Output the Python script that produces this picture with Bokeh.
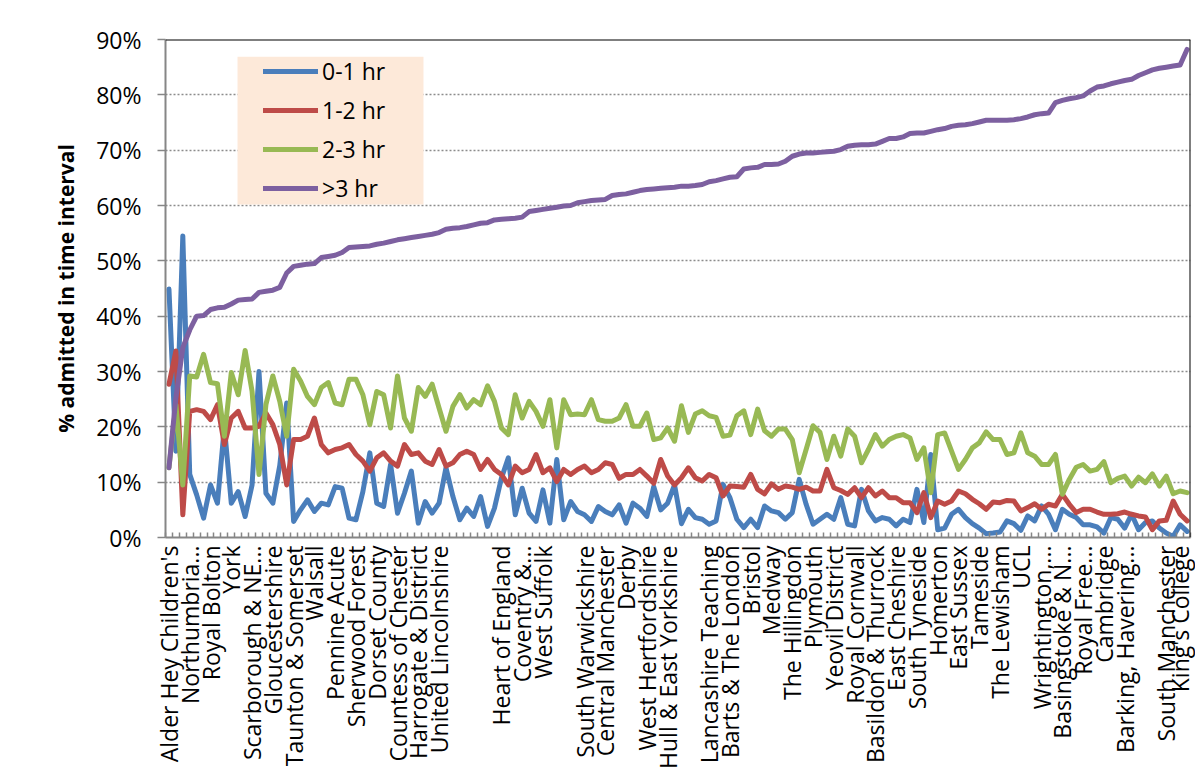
import math
from bokeh.plotting import figure
from bokeh.models import (FixedTicker, Range1d, Legend, LegendItem, Span,
                          BoxAnnotation, PrintfTickFormatter)
from bokeh.embed import file_html
from bokeh.resources import INLINE

# ---------------- data ----------------
tick_labels = [
    "Alder Hey Children's", "Northumbria...", "Royal Bolton", "York",
    "Scarborough & NE...", "Gloucestershire", "Taunton & Somerset", "Walsall",
    "Pennine Acute", "Sherwood Forest", "Dorset County", "Countess of Chester",
    "Harrogate & District", "United Lincolnshire", "", "", "Heart of England",
    "Coventry &...", "West Suffolk", "", "South Warwickshire", "Central Manchester",
    "Derby", "West Hertfordshire", "Hull & East Yorkshire", "", "Lancashire Teaching",
    "Barts & The London", "Bristol", "Medway", "The Hillingdon", "Plymouth",
    "Yeovil District", "Royal Cornwall", "Basildon & Thurrock", "East Cheshire",
    "South Tyneside", "Homerton", "East Sussex", "Tameside", "The Lewisham", "UCL",
    "Wrightington,...", "Basingstoke & N...", "Royal Free...", "Cambridge",
    "Barking, Havering...", "", "South Manchester", "King's College",
]
label_every = 3

series_names = ["0-1 hr", "1-2 hr", "2-3 hr", ">3 hr"]

hr_0_1 = [44.9, 15.6, 54.5, 11.4, 7.7, 3.5, 9.5, 6.2, 20.0, 6.2, 8.3, 3.8, 9.5, 30.0, 8.0, 6.2, 13.0, 24.3, 2.9, 5.0,
          6.8, 4.7, 6.2, 5.9, 9.2, 8.9, 3.5, 3.2, 8.3, 15.3, 6.2, 5.6, 13.2, 4.4, 8.0, 12.0, 2.6,
          6.5, 4.4, 6.2, 12.6, 7.4, 3.2, 5.3, 3.8, 7.4, 2.0, 5.3, 10.7, 14.4, 4.1, 8.9, 4.4, 2.9, 8.6, 2.6, 14.1,
          3.2, 6.5, 4.7, 4.1, 2.9, 5.6, 4.7, 4.1, 5.9, 2.6, 6.2, 5.3, 3.8, 9.2, 5.0, 6.2, 9.5,
          2.5, 5.1, 3.6, 3.3, 2.4, 3.0, 9.6, 7.2, 3.3, 1.8, 3.3, 1.8, 5.7, 4.8, 4.5, 3.3, 4.5, 10.5, 6.0, 2.4,
          3.3, 4.2, 3.3, 7.2, 2.4, 2.1, 8.7, 4.8, 3.0, 3.6, 3.3, 2.1, 3.3, 2.7, 8.7, 2.7, 15.0,
          1.4, 1.7, 4.2, 5.1, 3.6, 2.5, 1.7, 0.7, 0.8, 1.0, 3.0, 2.5, 1.3, 3.9, 3.0, 5.7, 4.2, 1.4, 5.1, 4.2,
          3.6, 2.3, 2.3, 1.9, 0.8, 3.6, 3.3, 1.7, 4.2, 1.4, 2.7, 3.0, 1.7, 0.8, 0.2, 2.3, 1.1]

hr_1_2 = [27.7, 33.7, 4.1, 22.8, 23.1, 22.8, 21.3, 24.0, 16.8, 21.6, 22.8, 19.8, 19.8, 20.1, 22.5, 20.4, 16.8, 9.5, 17.7, 17.7,
          18.3, 21.6, 16.8, 15.3, 15.9, 16.2, 16.8, 15.0, 13.8, 12.0, 14.4, 15.3, 13.8, 12.9, 16.8, 15.0, 15.3,
          13.8, 13.2, 15.9, 12.9, 13.5, 15.0, 15.6, 15.0, 12.3, 14.1, 12.3, 11.4, 9.5, 12.9, 11.7, 12.3, 15.0, 11.7, 12.6, 10.1,
          12.3, 11.4, 12.3, 12.9, 11.7, 12.3, 13.5, 13.2, 10.7, 11.4, 11.4, 12.3, 11.1, 9.8, 14.1, 11.1, 9.5,
          10.8, 12.6, 10.8, 10.2, 11.4, 10.8, 7.5, 9.3, 9.2, 9.1, 11.4, 8.7, 7.9, 9.7, 8.7, 9.3, 9.1, 8.7, 9.1, 8.4,
          8.4, 12.3, 9.0, 8.5, 7.8, 9.0, 7.2, 9.0, 7.5, 8.4, 7.2, 7.2, 6.3, 6.3, 4.5, 8.1, 3.6,
          6.6, 6.0, 6.6, 8.4, 7.9, 6.9, 6.1, 5.1, 6.4, 6.3, 6.7, 6.6, 4.8, 5.4, 6.1, 5.1, 6.0, 5.7, 7.8, 6.0,
          4.5, 5.1, 5.1, 4.6, 4.2, 4.2, 4.3, 4.6, 4.2, 3.9, 3.7, 1.4, 3.0, 3.1, 6.6, 4.2, 3.0]

hr_2_3 = [12.6, 24.0, 9.5, 29.2, 29.0, 33.1, 28.0, 27.8, 18.3, 29.8, 25.8, 33.8, 26.4, 11.4, 24.0, 29.2, 24.6, 18.3, 30.4, 28.3,
          25.5, 24.0, 27.1, 28.0, 24.3, 24.0, 28.6, 28.6, 25.8, 20.4, 26.4, 25.8, 19.8, 29.2, 21.6, 19.2, 27.1,
          25.5, 27.7, 23.4, 19.2, 23.7, 25.8, 23.4, 24.9, 24.0, 27.4, 24.6, 19.8, 18.6, 25.8, 21.6, 24.6, 22.8, 20.1, 24.9, 16.2,
          24.9, 22.2, 22.3, 22.2, 24.9, 21.3, 21.0, 21.0, 21.6, 24.0, 20.1, 20.1, 22.5, 17.7, 18.0, 19.8, 17.4,
          23.8, 19.0, 22.3, 22.9, 22.0, 21.7, 18.3, 18.5, 22.0, 22.9, 18.6, 23.2, 19.3, 18.3, 19.6, 19.6, 17.7, 11.7, 15.9, 20.2,
          19.0, 14.1, 18.3, 14.7, 19.6, 18.3, 13.5, 15.9, 18.6, 16.5, 17.7, 18.3, 18.6, 18.0, 14.1, 16.2, 8.1,
          18.6, 18.9, 15.6, 12.3, 14.1, 16.2, 17.1, 19.1, 17.7, 17.7, 15.0, 15.3, 18.9, 15.3, 14.7, 13.2, 13.2, 15.0, 7.8, 10.5,
          12.7, 13.2, 12.0, 12.3, 13.7, 9.9, 10.7, 11.1, 9.3, 10.9, 9.9, 11.5, 9.3, 11.1, 7.9, 8.4, 8.1]

hr_over_3 = [12.6, 25.2, 34.3, 37.5, 40.0, 40.1, 41.2, 41.5, 41.6, 42.2, 42.9, 43.0, 43.1, 44.3, 44.5, 44.7, 45.2, 47.8, 49.0, 49.2,
             49.4, 49.5, 50.6, 50.8, 51.0, 51.5, 52.4, 52.5, 52.6, 52.7, 53.0, 53.2, 53.5, 53.8, 54.0, 54.2, 54.4,
             54.6, 54.8, 55.1, 55.7, 55.9, 56.0, 56.2, 56.5, 56.8, 56.9, 57.4, 57.5, 57.6, 57.7, 57.9, 58.9, 59.1, 59.3, 59.5, 59.7,
             59.9, 60.0, 60.5, 60.7, 60.9, 61.0, 61.1, 61.8, 62.0, 62.1, 62.4, 62.7, 62.9, 63.0, 63.1, 63.2, 63.3,
             63.5, 63.5, 63.6, 63.8, 64.3, 64.5, 64.8, 65.1, 65.2, 66.6, 66.8, 66.9, 67.4, 67.4, 67.5, 68.0, 68.9, 69.3, 69.5, 69.5,
             69.6, 69.7, 69.8, 70.1, 70.7, 70.9, 71.0, 71.0, 71.1, 71.6, 72.1, 72.1, 72.4, 73.0, 73.1, 73.1, 73.4,
             73.7, 73.9, 74.3, 74.5, 74.6, 74.8, 75.1, 75.4, 75.4, 75.4, 75.4, 75.5, 75.7, 76.0, 76.4, 76.6, 76.7, 78.6, 79.0, 79.3,
             79.5, 79.8, 80.7, 81.4, 81.6, 82.0, 82.3, 82.6, 82.8, 83.5, 84.0, 84.5, 84.8, 85.0, 85.2, 85.4, 88.2]

y_ticks = [0, 10, 20, 30, 40, 50, 60, 70, 80, 90]

colors = ["#4A7EBB", "#BE4B48", "#98B954", "#7D60A0"]

# ---------------- figure ----------------
n = len(hr_0_1)
x = list(range(n))
FONT = "Open Sans"

p = figure(width=1195, height=776, output_backend="svg", toolbar_location=None,
           x_range=Range1d(-0.5, n - 0.5), y_range=Range1d(y_ticks[0], y_ticks[-1]),
           min_border_left=165, min_border_right=5, min_border_top=39,
           min_border_bottom=239)
p.outline_line_color = None
p.background_fill_color = "white"

# x axis
xa = p.xaxis[0]
major = [i * label_every for i in range(len(tick_labels))]
minor = [i - 0.5 for i in range(n + 1)]
xa.ticker = FixedTicker(ticks=major, minor_ticks=minor)
xa.major_label_overrides = {t: lab for t, lab in zip(major, tick_labels)}
xa.major_label_orientation = math.pi / 2
xa.major_label_text_font = FONT
xa.major_label_text_font_size = "23px"
xa.major_label_text_color = "black"
xa.major_label_standoff = 8
xa.major_tick_in = 0
xa.major_tick_out = 0
xa.minor_tick_in = 5
xa.minor_tick_out = 0
xa.minor_tick_line_color = "#868686"
xa.minor_tick_line_width = 1.5
xa.axis_line_color = "#868686"
xa.axis_line_width = 2

# y axis
ya = p.yaxis[0]
ya.ticker = FixedTicker(ticks=y_ticks, minor_ticks=[])
ya.formatter = PrintfTickFormatter(format="%d%%")
ya.major_label_text_font = FONT
ya.major_label_text_font_size = "23px"
ya.major_label_text_color = "black"
ya.major_tick_in = 0
ya.major_tick_out = 8
ya.major_tick_line_color = "#868686"
ya.major_tick_line_width = 1.5
ya.major_label_standoff = 16
ya.axis_line_color = "#868686"
ya.axis_line_width = 2
ya.axis_label = "% admitted in time interval"
ya.axis_label_text_font = FONT
ya.axis_label_text_font_style = "bold"
ya.axis_label_text_font_size = "21px"
ya.axis_label_text_color = "black"
ya.axis_label_standoff = 13

# grid
p.xgrid.visible = False
p.ygrid.ticker = FixedTicker(ticks=y_ticks)
p.ygrid.grid_line_color = "#8C8C8C"
p.ygrid.grid_line_dash = "2 2"
p.ygrid.grid_line_width = 1.3

# top and right plot borders
p.add_layout(Span(location=y_ticks[-1], dimension="width", line_color="black", line_width=2))
p.add_layout(Span(location=n - 0.5, dimension="height", line_color="black", line_width=2))

# legend background box (peach)
p.add_layout(BoxAnnotation(left=9.9, right=36.75, bottom=60.2, top=86.9,
                           fill_color="#FDE9D9", fill_alpha=1.0, line_color=None,
                           level="underlay"))

renderers = []
for vals, col in zip([hr_0_1, hr_1_2, hr_2_3, hr_over_3], colors):
    r = p.line(x, vals, line_color=col, line_width=5, line_join="round", line_cap="round")
    renderers.append(r)

legend = Legend(items=[LegendItem(label=nm, renderers=[r]) for nm, r in zip(series_names, renderers)],
                location=(98, 333), orientation="vertical",
                glyph_width=55, glyph_height=30, label_height=30, spacing=7,
                padding=5, margin=0, label_standoff=4,
                label_text_font=FONT, label_text_font_size="23px", label_text_color="black",
                background_fill_alpha=0.0, border_line_color=None)
p.add_layout(legend)

open("out.html", "w").write(file_html(p, INLINE))
